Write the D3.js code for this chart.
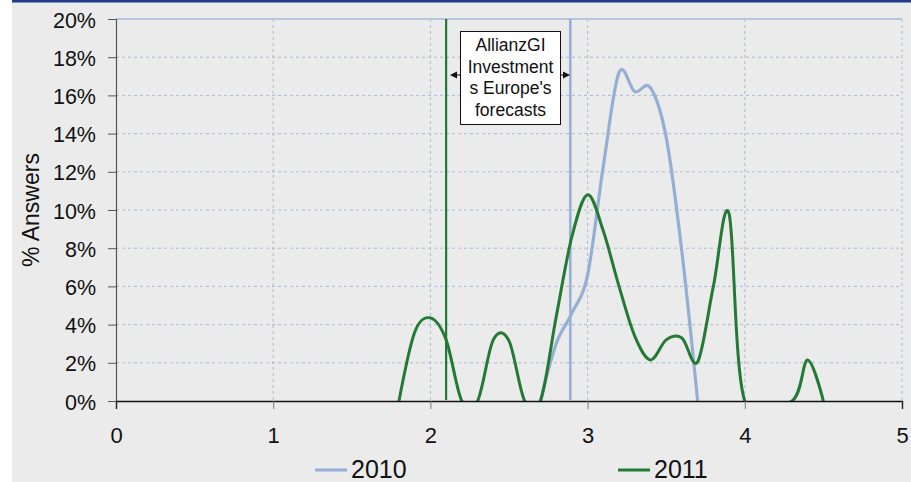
<!DOCTYPE html>
<html>
<head>
<meta charset="utf-8">
<script src="https://cdn.jsdelivr.net/npm/d3@7"></script>
<style>
html,body{margin:0;padding:0;background:#fff;}
svg{display:block;}
text{font-family:"Liberation Sans",Arial,sans-serif;fill:#111;}
</style>
</head>
<body>
<svg id="chart" width="911" height="482"></svg>
<script>
// ---- data ----
const xTicks = [0, 1, 2, 3, 4, 5];
const yTicks = [0, 2, 4, 6, 8, 10, 12, 14, 16, 18, 20];
const seriesNames = ["2010", "2011"];
const x2010 = [2.7, 2.8, 2.9, 3.0, 3.1, 3.2, 3.3, 3.4, 3.5, 3.6, 3.7];
const y2010 = [0, 3.0, 4.6, 6.6, 12.3, 17.2, 16.2, 16.4, 13.8, 7.8, 0];
const x2011 = [1.8, 1.9, 2.0, 2.1, 2.2, 2.3, 2.4, 2.5, 2.6, 2.7, 2.8, 2.9, 3.0, 3.1, 3.2, 3.3, 3.4, 3.5, 3.6, 3.7, 3.8, 3.9, 4.0, 4.3, 4.4, 4.5];
const y2011 = [0, 3.6, 4.35, 3.2, 0, 0, 3.2, 3.15, 0, 0, 4.4, 8.6, 10.8, 8.9, 6.0, 3.4, 2.15, 3.2, 3.3, 2.05, 6.0, 9.8, 0, 0, 2.15, 0];
const forecast2011 = 2.1;
const forecast2010 = 2.89;
const annotationLines = ["AllianzGI", "Investment", "s Europe's", "forecasts"];
const yLabel = "% Answers";
const colors = {"2010": "#95afd4", "2011": "#227a34"};

// ---- layout ----
const svg = d3.select("#chart");
const W = 911, H = 482;
svg.append("rect").attr("x", 0).attr("y", 0).attr("width", W).attr("height", H).attr("fill", "#fff");
svg.append("rect").attr("x", 12).attr("y", 0).attr("width", W - 12).attr("height", H).attr("fill", "#ebebeb");
svg.append("rect").attr("x", 12).attr("y", 0).attr("width", W - 12).attr("height", 2.5).attr("fill", "#1f3b8c");

const x = d3.scaleLinear().domain([0, 5]).range([116, 902]);
const y = d3.scaleLinear().domain([0, 20]).range([401, 19]);

const defs = svg.append("defs");
defs.append("clipPath").attr("id", "plotclip").append("rect")
  .attr("x", x(0)).attr("y", y(20) - 2).attr("width", x(5) - x(0)).attr("height", y(0) - y(20) + 2);

// grid
const grid = svg.append("g");
grid.selectAll("line.h").data(yTicks.filter(d => d > 0 && d < 20)).enter().append("line")
  .attr("x1", x(0)).attr("x2", x(5)).attr("y1", d => y(d)).attr("y2", d => y(d))
  .attr("stroke", "#a9bbd6").attr("stroke-width", 1).attr("stroke-dasharray", "3,3");
grid.selectAll("line.v").data(xTicks.filter(d => d > 0)).enter().append("line")
  .attr("x1", d => x(d)).attr("x2", d => x(d)).attr("y1", y(20)).attr("y2", y(0))
  .attr("stroke", "#a9bbd6").attr("stroke-width", 1).attr("stroke-dasharray", "3,3");
// top border
grid.append("line").attr("x1", x(0)).attr("x2", x(5)).attr("y1", y(20)).attr("y2", y(20))
  .attr("stroke", "#b6c5db").attr("stroke-width", 2);

// forecast vertical lines
svg.append("line").attr("x1", x(forecast2011)).attr("x2", x(forecast2011)).attr("y1", y(20)).attr("y2", y(0) - 1)
  .attr("stroke", colors["2011"]).attr("stroke-width", 2.2);
svg.append("line").attr("x1", x(forecast2010)).attr("x2", x(forecast2010)).attr("y1", y(20)).attr("y2", y(0) - 1)
  .attr("stroke", colors["2010"]).attr("stroke-width", 2.5);

// curves (uniform Catmull-Rom, like spreadsheet smoothed lines)
const line = d3.line().x(d => x(d[0])).y(d => y(d[1])).curve(d3.curveCardinal.tension(0));
const plot = svg.append("g").attr("clip-path", "url(#plotclip)");
plot.append("path").datum(x2010.map((v, i) => [v, y2010[i]]))
  .attr("d", line).attr("fill", "none").attr("stroke", colors["2010"]).attr("stroke-width", 3.2).attr("stroke-linejoin", "round");
plot.append("path").datum(x2011.map((v, i) => [v, y2011[i]]))
  .attr("d", line).attr("fill", "none").attr("stroke", colors["2011"]).attr("stroke-width", 3).attr("stroke-linejoin", "round");

// annotation box
const bx = 460.5, by = 31.5, bw = 100, bh = 93;
svg.append("rect").attr("x", bx).attr("y", by).attr("width", bw).attr("height", bh)
  .attr("fill", "#fff").attr("stroke", "#111").attr("stroke-width", 1);
svg.append("g").selectAll("text").data(annotationLines).enter().append("text")
  .attr("x", bx + bw / 2).attr("y", (d, i) => 51 + i * 21.5)
  .attr("text-anchor", "middle").attr("font-size", 17.5).text(d => d);
// arrows
const ay = 75;
svg.append("line").attr("x1", bx).attr("x2", 455).attr("y1", ay).attr("y2", ay).attr("stroke", "#111").attr("stroke-width", 1);
svg.append("path").attr("d", `M450,${ay} L457,${ay - 3.5} L457,${ay + 3.5} Z`).attr("fill", "#111");
svg.append("line").attr("x1", bx + bw).attr("x2", 565).attr("y1", ay).attr("y2", ay).attr("stroke", "#111").attr("stroke-width", 1);
svg.append("path").attr("d", `M570,${ay} L563,${ay - 3.5} L563,${ay + 3.5} Z`).attr("fill", "#111");

// axes
const yAxis = d3.axisLeft(y).tickValues(yTicks).tickSize(8).tickPadding(12).tickFormat(d => d + "%");
const gy = svg.append("g").attr("transform", `translate(${x(0)},0)`).call(yAxis);
gy.select(".domain").attr("stroke", "#555").attr("stroke-width", 1.2);
gy.selectAll(".tick line").attr("stroke", "#555");
gy.selectAll(".tick text").attr("font-size", 21.5).attr("font-family", "Liberation Sans, Arial, sans-serif").attr("fill", "#111").attr("dy", "0.38em");

const xAxis = d3.axisBottom(x).tickValues(xTicks).tickSize(8).tickPadding(18).tickFormat(d3.format("d"));
const gx = svg.append("g").attr("transform", `translate(0,${y(0)})`).call(xAxis);
gx.select(".domain").attr("stroke", "#111").attr("stroke-width", 1.4);
gx.selectAll(".tick line").attr("stroke", d => (d === 0 || d === 5) ? "#222" : "#777");
gx.selectAll(".tick text").attr("font-size", 22).attr("font-family", "Liberation Sans, Arial, sans-serif").attr("fill", "#111");

// y label
svg.append("text").attr("transform", "translate(39,210) rotate(-90)")
  .attr("text-anchor", "middle").attr("font-size", 23).text(yLabel);

// legend
const legendPos = [{name: "2010", x: 315}, {name: "2011", x: 618}];
const lg = svg.append("g");
legendPos.forEach(p => {
  lg.append("line").attr("x1", p.x).attr("x2", p.x + 32).attr("y1", 470).attr("y2", 470)
    .attr("stroke", colors[p.name]).attr("stroke-width", 3);
  lg.append("text").attr("x", p.x + 36).attr("y", 478).attr("font-size", 25).text(p.name);
});
</script>
</body>
</html>
